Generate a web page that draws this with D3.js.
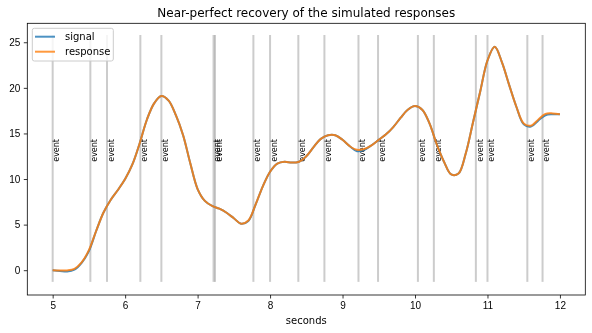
<!DOCTYPE html>
<html>
<head>
<meta charset="utf-8">
<script src="https://cdn.jsdelivr.net/npm/d3@7"></script>
<style>
  body { margin: 0; background: #fff; }
  svg { display: block; font-family: "DejaVu Sans", sans-serif; opacity: 0.999; will-change: opacity; }
  .axis text { font-size: 10px; fill: #000; }
  .axis path, .axis line { stroke: #000; stroke-width: 0.8; }
</style>
</head>
<body>
<div id="chart"></div>
<script>
// sample times (seconds)
var times = [5.0, 5.1, 5.2, 5.3, 5.4, 5.5, 5.6, 5.7, 5.8, 5.9,
             6.0, 6.1, 6.2, 6.3, 6.4, 6.5, 6.6, 6.7, 6.8, 6.9,
             7.0, 7.1, 7.2, 7.3, 7.4, 7.5, 7.6, 7.7, 7.8, 7.9,
             8.0, 8.1, 8.2, 8.3, 8.4, 8.5, 8.6, 8.7, 8.8, 8.9,
             9.0, 9.1, 9.2, 9.3, 9.4, 9.5, 9.6, 9.7, 9.8, 9.9,
             10.0, 10.1, 10.2, 10.3, 10.4, 10.5, 10.6, 10.7, 10.8, 10.9,
             11.0, 11.1, 11.2, 11.3, 11.4, 11.5, 11.6, 11.7, 11.8, 11.9, 12.0];

var signal = [0.0, -0.08, -0.15, 0.05, 0.8, 2.1, 4.3, 6.3, 7.7, 8.8,
              10.0, 11.6, 13.9, 16.5, 18.3, 19.1, 18.6, 17.0, 14.8, 11.7,
              8.9, 7.6, 7.05, 6.75, 6.3, 5.7, 5.1, 5.4, 7.2, 9.2,
              10.8, 11.7, 11.9, 11.8, 11.9, 12.5, 13.5, 14.4, 14.8, 14.8,
              14.3, 13.6, 13.05, 13.2, 13.7, 14.3, 14.9, 15.7, 16.7, 17.6,
              18.0, 17.6, 16.1, 13.8, 11.9, 10.5, 10.6, 12.8, 16.2, 19.6,
              23.0, 24.5, 22.8, 20.3, 17.9, 16.0, 15.75, 16.4, 17.0, 17.1, 17.1];

var response = [0.0, -0.03, -0.02, 0.15, 0.85, 2.2, 4.3, 6.3, 7.7, 8.8,
                10.0, 11.6, 13.9, 16.5, 18.3, 19.1, 18.6, 17.0, 14.8, 11.7,
                8.9, 7.6, 7.05, 6.75, 6.3, 5.7, 5.1, 5.45, 7.2, 9.2,
                10.8, 11.7, 11.9, 11.8, 11.9, 12.5, 13.5, 14.4, 14.8, 14.8,
                14.3, 13.6, 13.2, 13.3, 13.7, 14.3, 14.9, 15.7, 16.7, 17.6,
                18.0, 17.6, 16.1, 13.8, 11.9, 10.5, 10.6, 12.8, 16.2, 19.6,
                23.0, 24.5, 22.8, 20.3, 17.9, 16.1, 15.85, 16.5, 17.15, 17.2, 17.1];

var events = [5.0, 5.52, 5.75, 6.21, 6.5, 7.22, 7.24, 7.77, 8.0, 8.39,
              8.75, 9.22, 9.49, 10.04, 10.26, 10.84, 11.0, 11.55, 11.76];

var xTicks = [5, 6, 7, 8, 9, 10, 11, 12];
var yTicks = [0, 5, 10, 15, 20, 25];

var W = 592, H = 333;
var margin = {top: 23.3, right: 6.7, bottom: 38, left: 27.3};
var width = W - margin.left - margin.right;
var height = H - margin.top - margin.bottom;

var svg = d3.select("#chart").append("svg")
    .attr("width", W)
    .attr("height", H);

var g = svg.append("g")
    .attr("transform", "translate(" + margin.left + "," + margin.top + ")");

///////////////////////
// Scales
var x = d3.scaleLinear()
    .domain([4.65, 12.35])
    .range([0, width]);

var y = d3.scaleLinear()
    .domain([-2.72, 27.08])
    .range([height, 0]);

///////////////////////
// event lines + labels
g.selectAll(".event-line")
  .data(events)
  .enter().append("line")
    .attr("class", "event-line")
    .attr("x1", function(d) { return x(d); })
    .attr("x2", function(d) { return x(d); })
    .attr("y1", y(-1.28))
    .attr("y2", y(25.8))
    .style("stroke", "#808080")
    .style("stroke-opacity", 0.4)
    .style("stroke-width", 2);

g.selectAll(".event-label")
  .data(events)
  .enter().append("text")
    .attr("class", "event-label")
    .attr("transform", function(d) {
      return "translate(" + (x(d) + 6.8) + "," + (y(12) + 1) + ") rotate(-90)";
    })
    .style("font-size", "8px")
    .style("fill", "#000")
    .text("event");

///////////////////////
// curves
var line = d3.line()
    .x(function(d) { return x(d[0]); })
    .y(function(d) { return y(d[1]); })
    .curve(d3.curveCatmullRom);

g.append("path")
    .datum(d3.zip(times, signal))
    .attr("d", line)
    .style("fill", "none")
    .style("stroke", "#1f77b4")
    .style("stroke-opacity", 0.85)
    .style("stroke-width", 2);

g.append("path")
    .datum(d3.zip(times, response))
    .attr("d", line)
    .style("fill", "none")
    .style("stroke", "#ff7f0e")
    .style("stroke-opacity", 0.85)
    .style("stroke-width", 2);

///////////////////////
// Axis
var xAxis = d3.axisBottom(x)
    .tickValues(xTicks)
    .tickSize(3.5)
    .tickPadding(3.5)
    .tickSizeOuter(0);

var yAxis = d3.axisLeft(y)
    .tickValues(yTicks)
    .tickSize(3.5)
    .tickPadding(3.5)
    .tickSizeOuter(0);

g.append("g")
    .attr("class", "axis")
    .attr("transform", "translate(0," + height + ")")
    .call(xAxis)
    .select(".domain").remove();

g.append("g")
    .attr("class", "axis")
    .call(yAxis)
    .select(".domain").remove();

// frame
g.append("rect")
    .attr("x", 0)
    .attr("y", 0)
    .attr("width", width)
    .attr("height", height)
    .style("fill", "none")
    .style("stroke", "#000")
    .style("stroke-width", 0.8);

g.append("text")
    .attr("x", width / 2)
    .attr("y", height + 29)
    .attr("text-anchor", "middle")
    .style("font-size", "10px")
    .text("seconds");

svg.append("text")
    .attr("x", margin.left + width / 2)
    .attr("y", 17.3)
    .attr("text-anchor", "middle")
    .style("font-size", "12px")
    .text("Near-perfect recovery of the simulated responses");

///////////////////////
// legend
var legend = svg.append("g")
    .attr("transform", "translate(32.3,28.3)");

legend.append("rect")
    .attr("width", 81)
    .attr("height", 32.7)
    .attr("rx", 2)
    .style("fill", "#fff")
    .style("fill-opacity", 0.8)
    .style("stroke", "#ccc")
    .style("stroke-width", 1);

var items = [{name: "signal", color: "#1f77b4"}, {name: "response", color: "#ff7f0e"}];
var li = legend.selectAll(".item")
  .data(items)
  .enter().append("g")
    .attr("transform", function(d, i) { return "translate(0," + (8.4 + i * 15) + ")"; });

li.append("line")
    .attr("x1", 2.7).attr("x2", 22.7)
    .style("stroke", function(d) { return d.color; })
    .style("stroke-opacity", 0.8)
    .style("stroke-width", 2);

li.append("text")
    .attr("x", 32.7)
    .attr("y", 3.6)
    .style("font-size", "10px")
    .text(function(d) { return d.name; });
</script>
</body>
</html>
